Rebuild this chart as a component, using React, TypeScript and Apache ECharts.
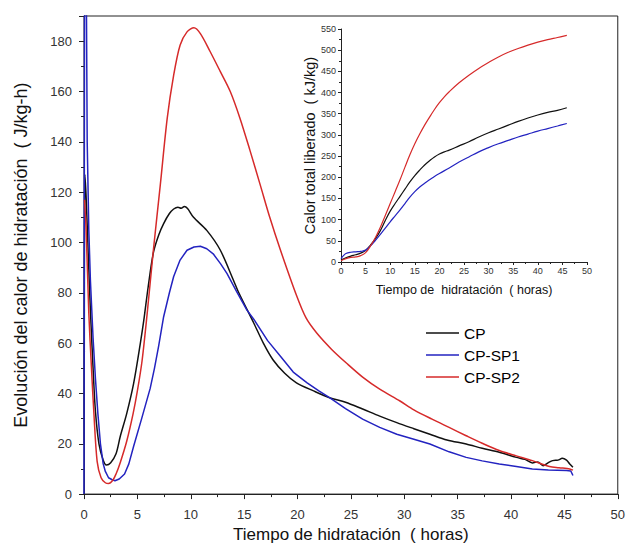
import React, { useEffect, useRef } from "react";
import * as echarts from "echarts";

const seriesNames = ["CP", "CP-SP1", "CP-SP2"];
const seriesColors = ["#111111", "#2323c0", "#d62a2a"];

// Main chart: heat of hydration rate (J/kg-h) vs time (h)
const cpRate: [number, number][] = [
  [0.02, 20], [0.08, 127], [0.2, 118], [0.4, 95], [0.61, 72], [0.85, 50], [1.07, 33], [1.4, 20],
  [1.8, 13.5], [2.1, 11.6], [2.5, 12.5], [3.0, 16], [3.4, 23], [4.0, 32], [4.65, 44], [5.28, 60],
  [5.6, 69], [6.0, 82], [6.5, 96], [7.0, 103], [7.46, 107.5], [8.0, 111.5], [8.4, 113.3], [8.8, 114],
  [9.1, 113.6], [9.4, 114.3], [9.7, 113.5], [10.26, 110], [11.5, 104.8], [12.76, 97], [14.0, 85],
  [14.5, 80], [15.9, 68], [16.8, 60], [17.7, 53.4], [18.8, 48], [19.9, 44.2], [21.5, 41],
  [23.0, 38.3], [24.5, 36.5], [26.1, 33.8], [27.7, 31], [29.3, 28.4], [30.9, 26], [32.4, 23.8],
  [34.0, 21.5], [35.8, 19.9], [37.3, 18.2], [38.9, 16.6], [40.5, 14.6], [41.3, 13.8], [42.0, 12.4],
  [42.5, 12.8], [43.0, 11.3], [43.5, 12.5], [43.9, 13.3], [44.4, 13.5], [44.8, 14.2], [45.2, 13.5],
  [45.5, 12], [45.8, 10.7],
];
const sp1Rate: [number, number][] = [
  [0.0, 0], [0.05, 200], [0.22, 200], [0.3, 140], [0.45, 105], [0.6, 85], [0.85, 62], [1.07, 46],
  [1.3, 32], [1.54, 20], [1.8, 12], [2.0, 9], [2.3, 6.5], [2.6, 5.8], [2.9, 5.3], [3.3, 6], [3.8, 8],
  [4.2, 12], [4.65, 19], [5.4, 30], [6.2, 42], [6.6, 50], [7.0, 59], [7.46, 70.5], [8.0, 80],
  [8.4, 86.5], [9.0, 93], [9.65, 96.9], [10.3, 98.2], [10.9, 98.5], [11.5, 97.5], [12.1, 95.5],
  [12.8, 91.5], [13.4, 87.6], [14.3, 80.5], [15.25, 73.2], [15.9, 69.5], [17.2, 61], [18.4, 54.8],
  [19.6, 48.5], [20.9, 44.2], [22.0, 41], [23.0, 38.3], [24.5, 34], [26.1, 29.8], [27.7, 26.5],
  [29.3, 23.8], [30.9, 21.8], [32.4, 19.9], [34.2, 16.8], [35.8, 14.6], [37.3, 13.2], [38.9, 12],
  [40.5, 11], [42.0, 10], [43.5, 9.6], [45.2, 9.4], [45.6, 9.2], [45.8, 7.4],
];
const sp2Rate: [number, number][] = [
  [0.05, 117], [0.2, 105], [0.45, 72], [0.7, 50], [0.92, 32.6], [1.23, 13], [1.6, 6.5], [2.0, 4.5],
  [2.3, 4.2], [2.7, 5.5], [3.0, 8], [3.4, 12.6], [4.0, 21], [4.6, 32], [5.0, 41], [5.44, 53],
  [5.9, 71], [6.5, 97], [7.15, 123], [7.8, 149.5], [8.4, 166.5], [9.0, 178.4], [9.65, 183.7],
  [10.3, 185.3], [10.9, 183], [11.8, 176], [12.76, 168], [13.7, 160], [14.6, 149.5], [15.56, 136.4],
  [16.5, 123], [17.4, 110], [18.4, 97], [19.9, 79], [20.8, 70], [21.8, 64], [23.2, 57.5],
  [24.6, 52], [26.1, 46.5], [27.7, 41.7], [29.6, 37], [30.9, 33.5], [32.6, 29.8], [34.2, 26.5],
  [35.8, 23.2], [37.3, 20.2], [38.9, 17.3], [40.5, 15.2], [42.0, 13.3], [43.6, 11], [44.5, 10.5],
  [45.5, 10], [45.8, 9.5],
];

// Inset: total heat released (kJ/kg) vs time (h)
const cpTotal: [number, number][] = [
  [0, 5], [1, 10], [2, 14], [3, 17], [4, 21], [5, 27], [6, 40], [7, 55], [8, 74], [9, 98], [10, 120],
  [11, 138], [12, 155], [13, 172], [14, 189], [15, 204], [16, 217], [17, 229], [18, 239], [19, 248],
  [20, 255], [21, 260], [22, 264], [24, 274], [26, 284], [28, 295], [30, 305], [32, 314], [34, 323],
  [36, 332], [38, 340], [40, 347], [42, 353], [44, 358], [45.9, 364],
];
const sp1Total: [number, number][] = [
  [0, 8], [0.5, 15], [1, 20], [2, 23], [3, 24], [4, 25], [5, 28], [6, 38], [7, 51], [8, 65], [9, 80],
  [10, 95], [11, 109], [12, 123], [13, 138], [14, 153], [15, 166], [16, 177], [17, 186], [18, 194],
  [19, 202], [20, 209], [22, 222], [24, 236], [26, 248], [28, 260], [30, 270], [32, 279], [34, 287],
  [36, 295], [38, 302], [40, 309], [42, 315], [44, 321], [45.9, 327],
];
const sp2Total: [number, number][] = [
  [0, 3], [1, 8], [2, 11], [3, 12], [4, 15], [5, 22], [6, 38], [7, 58], [8, 82], [9, 110], [10, 138],
  [11, 166], [12, 194], [13, 224], [14, 253], [15, 279], [16, 302], [17, 323], [18, 342], [19, 360],
  [20, 376], [21, 390], [22, 402], [24, 423], [26, 441], [28, 457], [30, 471], [32, 484], [34, 495],
  [36, 504], [38, 512], [40, 519], [42, 525], [44, 530], [45.9, 535],
];

const FONT = "'Liberation Sans', Arial, sans-serif";

export default function App() {
  const ref = useRef<HTMLDivElement>(null);
  useEffect(() => {
    document.body.style.margin = "0";
    if (!ref.current) return;
    const chart = echarts.init(ref.current, undefined, { renderer: "svg" });
    const axisLine = { show: true, lineStyle: { color: "#222", width: 1 } };
    const mainRates = [cpRate, sp1Rate, sp2Rate];
    const totals = [cpTotal, sp1Total, sp2Total];
    chart.setOption({
      animation: false,
      backgroundColor: "#fff",
      textStyle: { fontFamily: FONT },
      legend: {
        data: seriesNames,
        orient: "vertical",
        left: 421,
        top: 320,
        itemWidth: 33,
        itemHeight: 14,
        itemGap: 6,
        icon: "path://M0,0 L33,0 L33,1.6 L0,1.6 Z",
        textStyle: { fontSize: 15.5, color: "#000", fontFamily: FONT },
      },
      grid: [
        { left: 84, right: 9, top: 16, bottom: 49, show: true, borderColor: "#222", borderWidth: 1, containLabel: false },
        { left: 341, right: 41, top: 29, bottom: 286, containLabel: false },
      ],
      xAxis: [
        {
          gridIndex: 0, type: "value", min: 0, max: 50, interval: 5,
          name: "Tiempo de hidratación  ( horas)", nameLocation: "middle", nameGap: 30,
          nameTextStyle: { fontSize: 17, color: "#111", fontFamily: FONT },
          axisLine, splitLine: { show: false },
          axisTick: { show: true, length: 5, inside: false, lineStyle: { color: "#222" } },
          minorTick: { show: true, splitNumber: 2, length: 3, lineStyle: { color: "#222" } },
          axisLabel: { fontSize: 13, color: "#333", margin: 14, fontFamily: FONT },
        },
        {
          gridIndex: 1, type: "value", min: 0, max: 50, interval: 5,
          name: "Tiempo de  hidratación  ( horas)", nameLocation: "middle", nameGap: 21,
          nameTextStyle: { fontSize: 12.5, color: "#111", fontFamily: FONT },
          axisLine, splitLine: { show: false },
          axisTick: { show: true, length: 3, inside: false, lineStyle: { color: "#222" } },
          minorTick: { show: true, splitNumber: 2, length: 2, lineStyle: { color: "#222" } },
          axisLabel: { fontSize: 9, color: "#333", margin: 4, fontFamily: FONT },
        },
      ],
      yAxis: [
        {
          gridIndex: 0, type: "value", min: 0, max: 190, interval: 20,
          name: "Evolución del calor de hidratación  ( J/kg-h)", nameLocation: "middle", nameGap: 54,
          nameTextStyle: { fontSize: 18, color: "#111", fontFamily: FONT },
          axisLine, splitLine: { show: false },
          axisTick: { show: true, length: 5, inside: false, lineStyle: { color: "#222" } },
          minorTick: { show: true, splitNumber: 2, length: 3, lineStyle: { color: "#222" } },
          axisLabel: { fontSize: 13, color: "#333", margin: 12, fontFamily: FONT,
            formatter: (v: number) => (v % 20 === 0 ? String(v) : "") },
        },
        {
          gridIndex: 1, type: "value", min: 0, max: 550, interval: 50,
          name: "Calor total liberado  ( kJ/kg)", nameLocation: "middle", nameGap: 21,
          nameTextStyle: { fontSize: 14.5, color: "#111", fontFamily: FONT },
          axisLine, splitLine: { show: false },
          axisTick: { show: true, length: 3, inside: false, lineStyle: { color: "#222" } },
          minorTick: { show: true, splitNumber: 2, length: 2, lineStyle: { color: "#222" } },
          axisLabel: { fontSize: 9, color: "#333", margin: 5, fontFamily: FONT },
        },
      ],
      series: [
        ...seriesNames.map((n, i) => ({
          name: n, type: "line", xAxisIndex: 0, yAxisIndex: 0, data: mainRates[i],
          symbol: "none", showSymbol: false, smooth: i === 1 ? false : 0.3, clip: true,
          lineStyle: { color: seriesColors[i], width: 1.5, join: "round" }, itemStyle: { color: seriesColors[i] },
        })),
        ...seriesNames.map((n, i) => ({
          name: n + " total", type: "line", xAxisIndex: 1, yAxisIndex: 1, data: totals[i],
          symbol: "none", showSymbol: false, smooth: 0.4,
          lineStyle: { color: seriesColors[i], width: 1.2 }, itemStyle: { color: seriesColors[i] },
        })),
      ],
    });
    return () => chart.dispose();
  }, []);
  return <div ref={ref} style={{ width: 628, height: 548 }} />;
}
